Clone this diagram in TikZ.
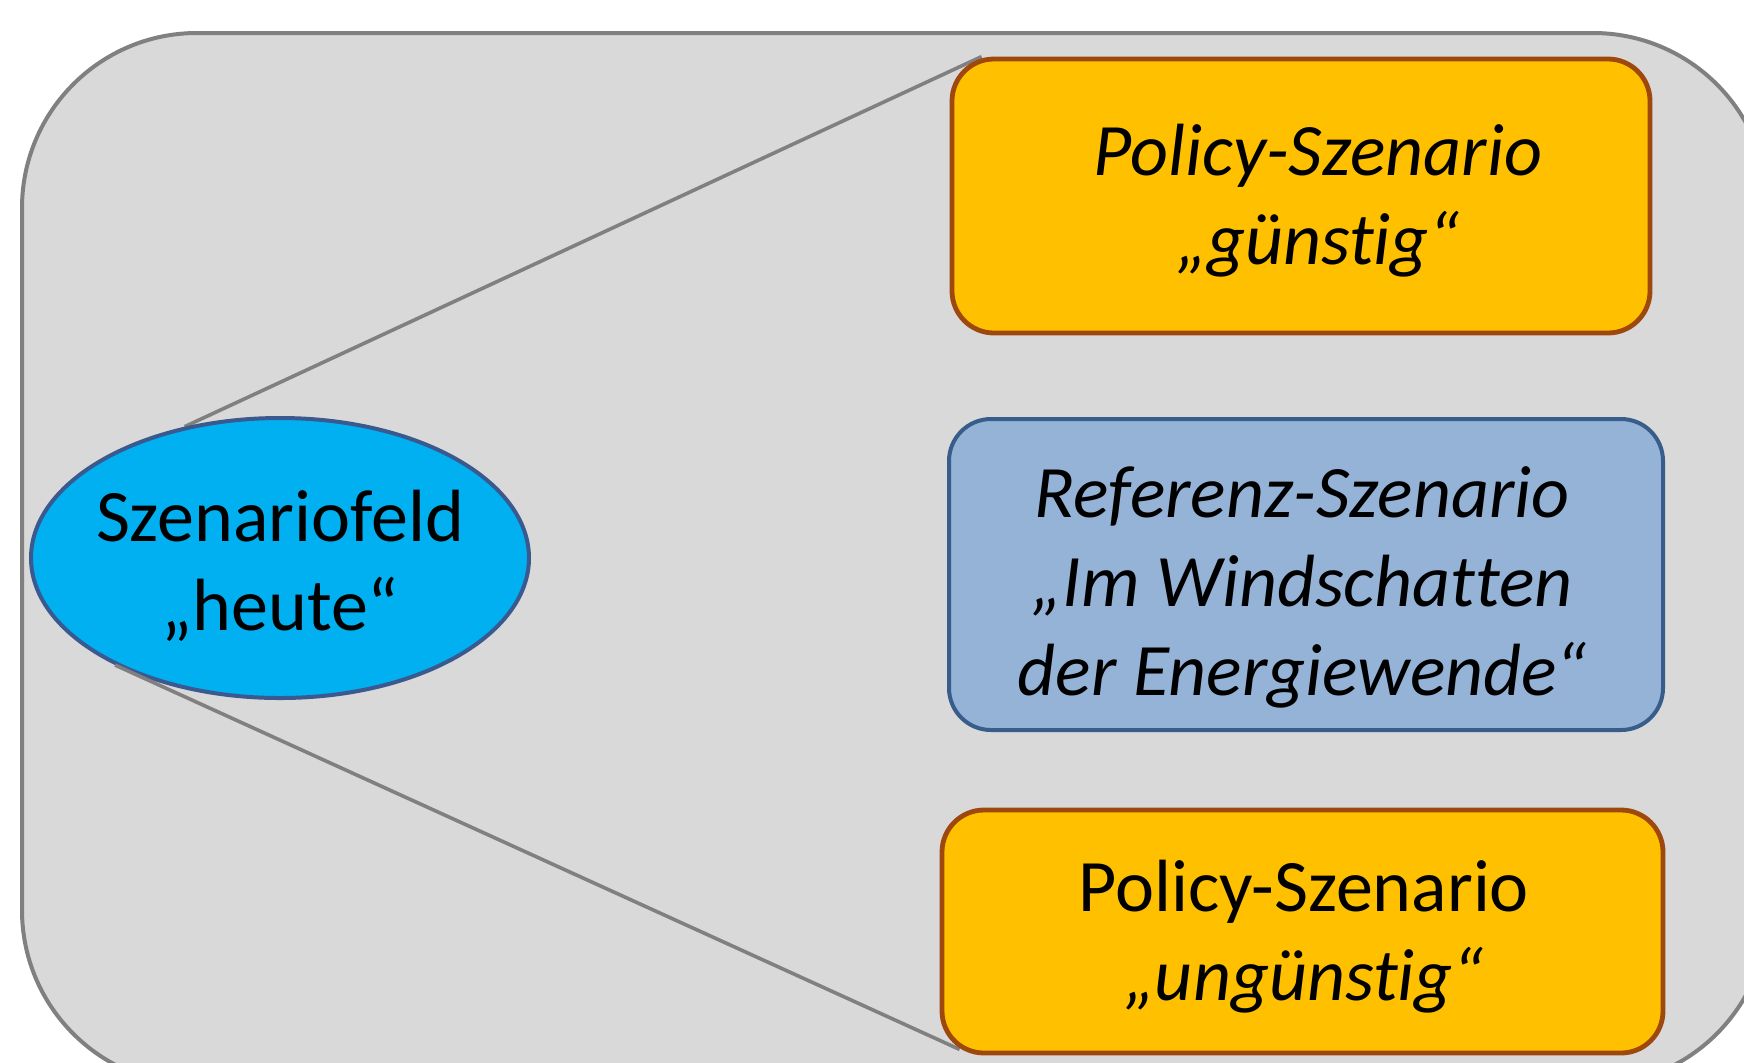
\documentclass[tikz,border=0pt]{standalone}
\usepackage{fontspec}
\setmainfont{Carlito}[Ligatures=NoCommon]
\usetikzlibrary{shapes.geometric,calc}
\definecolor{framefill}{HTML}{D9D9D9}
\definecolor{framegray}{HTML}{808080}
\definecolor{orangefill}{HTML}{FFC000}
\definecolor{orangeborder}{HTML}{9E480E}
\definecolor{bluefill}{HTML}{95B3D7}
\definecolor{blueborder}{HTML}{385D8A}
\definecolor{cyanfill}{HTML}{00B0F0}
\definecolor{ellborder}{HTML}{3A5A8F}
\pgfdeclarelayer{bg}
\pgfdeclarelayer{lineone}
\pgfdeclarelayer{ell}
\pgfdeclarelayer{linetwo}
\pgfsetlayers{bg,lineone,ell,linetwo,main}
\tikzset{
  bigtext/.style={font=\fontsize{37}{44.5}\selectfont, align=center, text=black, inner sep=0pt},
  framebox/.style={draw=framegray, fill=framefill, line width=2pt, rounded corners=87.5pt},
  conn/.style={draw=framegray, line width=1.8pt},
  ellnode/.style={ellipse, draw=ellborder, fill=cyanfill, line width=2pt,
    minimum width=249pt, minimum height=140pt, inner sep=0pt},
  orangebox/.style={rectangle, rounded corners=21pt, draw=orangeborder,
    fill=orangefill, line width=2.4pt, inner sep=0pt},
  bluebox/.style={rectangle, rounded corners=21pt, draw=blueborder,
    fill=bluefill, line width=2pt, inner sep=0pt}
}
\begin{document}
\begin{tikzpicture}[x=0.5pt,y=-0.5pt]
\useasboundingbox (0,0) rectangle (1744,1062);
\begin{pgfonlayer}{bg}
  \clip (0,0) rectangle (1744,1062);
  \draw[framebox] (22,33) rectangle (1768,1085);
\end{pgfonlayer}
\begin{pgfonlayer}{ell}
  \node[ellnode] (e) at (280,558) {};
  \node[bigtext] (et) at (280,566) {Szenariofeld\\„heute“};
\end{pgfonlayer}
\node[orangebox, minimum width=349pt, minimum height=137pt] (b1) at (1301,196) {};
\node[bigtext, font=\fontsize{37}{44.5}\selectfont\itshape] (t1) at (1318,201)
  {Policy-Szenario\\„günstig“};
\node[bluebox, minimum width=357pt, minimum height=155.5pt] (b2) at (1306,574.5) {};
\node[bigtext, font=\fontsize{37}{44.5}\selectfont\itshape] (t2) at (1302,587.5)
  {Referenz-Szenario\\„Im Windschatten\\der Energiewende“};
\node[orangebox, minimum width=360.5pt, minimum height=121.5pt] (b3) at (1302.5,931.5) {};
\node[bigtext] (t3) at (1304,937)
  {Policy-Szenario\\\itshape „ungünstig“};
\begin{pgfonlayer}{lineone}
  \draw[conn] (e.126) -- ($(b1.north west)+(32,0)$);
\end{pgfonlayer}
\begin{pgfonlayer}{linetwo}
  \draw[conn] (e.213) -- ($(b3.south west)+(20,-6)$);
\end{pgfonlayer}
\end{tikzpicture}
\end{document}
